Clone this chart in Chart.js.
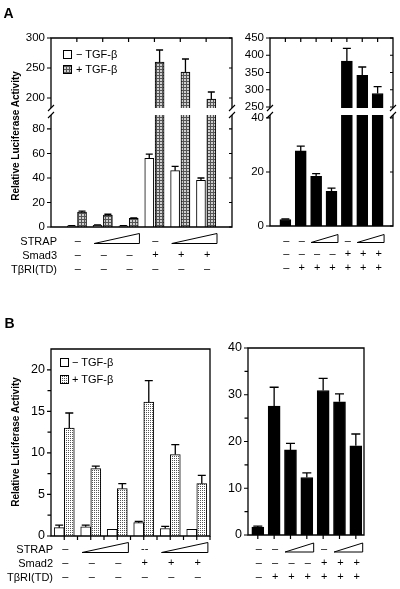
<!DOCTYPE html>
<html><head><meta charset="utf-8">
<script src="https://cdn.jsdelivr.net/npm/chart.js@4.4.1/dist/chart.umd.min.js"></script>
<style>
html,body{margin:0;padding:0;background:#fff;}
#wrap{position:relative;width:400px;height:589px;overflow:hidden;background:#fff;}
canvas{position:absolute;left:0;top:0;width:400px;height:589px;}
.t{position:absolute;font-family:"Liberation Sans",Arial,Helvetica,sans-serif;font-size:11px;line-height:11px;color:#000;white-space:nowrap;}
.m{transform:translateX(-50%);}
.r{text-align:right;}
.p{font-weight:bold;font-size:14px;line-height:14px;}
.yt{font-weight:bold;font-size:10px;line-height:10px;transform:translate(-50%,-50%) rotate(-90deg);}
</style></head><body><div id="wrap">
<canvas id="aLU" width="400" height="589"></canvas>
<canvas id="aLL" width="400" height="589"></canvas>
<canvas id="aRU" width="400" height="589"></canvas>
<canvas id="aRL" width="400" height="589"></canvas>
<canvas id="bL" width="400" height="589"></canvas>
<canvas id="bR" width="400" height="589"></canvas>
</div>
<script>
// ---------------- DATA ----------------
// Panel A, left: Smad3 / STRAP, -TGF-β (white) and +TGF-β (hatched)
const aLeftLanes = [0, 1, 2, 3, 4, 5];
const aLeftMinus = [1.0, 1.4, 1.0, 56, 46, 38];
const aLeftMinusErr = [0.2, 0.3, 0.2, 3.5, 3.5, 2];
const aLeftPlus = [12.2, 9.8, 7.0, 260, 243, 198];
const aLeftPlusErr = [0.8, 0.6, 0.5, 20, 22, 12];
const aLeftTicksUpper = [200, 250, 300];
const aLeftTicksLower = [0, 20, 40, 60, 80];
const aLeftRowNames = ['STRAP', 'Smad3', 'TβRI(TD)'];
const aLeftStrap = ['–', '<', '<', '–', '<', '<'];
const aLeftSmad3 = ['–', '–', '–', '+', '+', '+'];
const aLeftTbri = ['–', '–', '–', '–', '–', '–'];
const legendLabels = ['− TGF-β', '+ TGF-β'];

// Panel A, right
const aRightLanes = [0, 1, 2, 3, 4, 5, 6];
const aRightVals = [2.4, 27.8, 18.4, 12.8, 383, 342, 289];
const aRightErr = [0.2, 1.8, 1.0, 1.2, 37, 24, 20];
const aRightTicksUpper = [250, 300, 350, 400, 450];
const aRightTicksLower = [0, 20, 40];
const aRightStrap = ['–', '–', '<', '<', '–', '<', '<'];
const aRightSmad3 = ['–', '–', '–', '–', '+', '+', '+'];
const aRightTbri = ['–', '+', '+', '+', '+', '+', '+'];

// Panel B, left: Smad2 / STRAP
const bLeftLanes = [0, 1, 2, 3, 4, 5];
const bLeftMinus = [1.0, 1.1, 0.8, 1.6, 0.9, 0.8];
const bLeftMinusErr = [0.3, 0.2, 0, 0.15, 0.25, 0];
const bLeftPlus = [13.0, 8.1, 5.7, 16.1, 9.8, 6.3];
const bLeftPlusErr = [1.8, 0.3, 0.6, 2.6, 1.2, 1.0];
const bLeftTicks = [0, 5, 10, 15, 20];
const bLeftMinor = [2.5, 7.5, 12.5, 17.5];
const bLeftRowNames = ['STRAP', 'Smad2', 'TβRI(TD)'];
const bLeftStrap = ['–', '<', '<', '--', '<', '<'];
const bLeftSmad2 = ['–', '–', '–', '+', '+', '+'];
const bLeftTbri = ['–', '–', '–', '–', '–', '–'];

// Panel B, right
const bRightLanes = [0, 1, 2, 3, 4, 5, 6];
const bRightVals = [1.7, 27.6, 18.2, 12.3, 30.9, 28.5, 19.1];
const bRightErr = [0.2, 4.0, 1.4, 1.0, 2.6, 1.7, 2.5];
const bRightTicks = [0, 10, 20, 30, 40];
const bRightMinor = [5, 15, 25, 35];
const bRightStrap = ['–', '–', '<', '<', '–', '<', '<'];
const bRightSmad2 = ['–', '–', '–', '–', '+', '+', '+'];
const bRightTbri = ['–', '+', '+', '+', '+', '+', '+'];

// ---------------- SETUP ----------------
const FONT = '"Liberation Sans", Arial, Helvetica, sans-serif';
Chart.defaults.font.family = FONT;
Chart.defaults.color = '#000';
const wrap = document.getElementById('wrap');
const W = 400, H = 589, AXW = 40;

function pattern(canvasId, kind) {
  const t = document.createElement('canvas');
  const c = t.getContext('2d');
  if (kind === 'grid') {
    t.width = 3; t.height = 3;
    c.fillStyle = '#cfcfcf'; c.fillRect(0, 0, 3, 3);
    c.fillStyle = '#555'; c.fillRect(0, 0, 3, 1); c.fillRect(0, 0, 1, 3);
  } else {
    t.width = 2; t.height = 2;
    c.fillStyle = '#fff'; c.fillRect(0, 0, 2, 2);
    c.fillStyle = '#555'; c.fillRect(0, 0, 1, 1);
  }
  return document.getElementById(canvasId).getContext('2d').createPattern(t, 'repeat');
}

const DECO = {};
const decoPlugin = {
  id: 'deco',
  afterDatasetsDraw(chart) {
    const o = DECO[chart.canvas.id];
    if (!o) return;
    const ctx = chart.ctx, a = chart.chartArea, xs = chart.scales.x, ys = chart.scales.y;
    ctx.save();
    ctx.strokeStyle = '#000';
    // error bars
    ctx.save();
    ctx.beginPath(); ctx.rect(a.left, a.top - 1, a.right - a.left, a.bottom - a.top + 1); ctx.clip();
    ctx.lineWidth = 1.3;
    chart.data.datasets.forEach((ds, di) => {
      if (!ds.errors) return;
      chart.getDatasetMeta(di).data.forEach((el, i) => {
        const e = ds.errors[i]; if (!e) return;
        const yT = ys.getPixelForValue(ds.data[i].y + e);
        ctx.beginPath();
        ctx.moveTo(el.x, el.y); ctx.lineTo(el.x, yT);
        ctx.moveTo(el.x - o.cap / 2, yT); ctx.lineTo(el.x + o.cap / 2, yT);
        ctx.stroke();
      });
    });
    ctx.restore();
    // frame
    ctx.lineWidth = 1.3;
    ctx.beginPath();
    ctx.moveTo(a.left, a.top); ctx.lineTo(a.left, a.bottom);
    ctx.moveTo(a.right, a.top); ctx.lineTo(a.right, a.bottom);
    if (o.top) { ctx.moveTo(a.left - 0.65, a.top); ctx.lineTo(a.right + 0.65, a.top); }
    if (o.bottom) { ctx.moveTo(a.left - 0.65, a.bottom); ctx.lineTo(a.right + 0.65, a.bottom); }
    ctx.stroke();
    // break marks
    ctx.lineWidth = 1.1;
    ctx.beginPath();
    const slash = (x, y) => { ctx.moveTo(x - 3, y + 3); ctx.lineTo(x + 3, y - 3); };
    if (o.breakBottom) { slash(a.left, a.bottom); slash(a.right, a.bottom); }
    if (o.breakTop) { slash(a.left, a.top); slash(a.right, a.top); }
    ctx.stroke();
    // y ticks
    ctx.lineWidth = 1.2;
    ctx.beginPath();
    ys.ticks.forEach(t => {
      const y = ys.getPixelForValue(t.value);
      ctx.moveTo(a.left - 4, y); ctx.lineTo(a.left, y);
      if (o.rightTicks) { ctx.moveTo(a.right - 3, y); ctx.lineTo(a.right, y); }
    });
    (o.minor || []).forEach(v => {
      const y = ys.getPixelForValue(v);
      ctx.moveTo(a.left - 3.5, y); ctx.lineTo(a.left, y);
    });
    (o.xTop || []).forEach(v => {
      const x = xs.getPixelForValue(v);
      ctx.moveTo(x, a.top); ctx.lineTo(x, a.top + 4);
    });
    (o.xBottom || []).forEach(v => {
      const x = xs.getPixelForValue(v);
      ctx.moveTo(x, a.bottom); ctx.lineTo(x, a.bottom + 4);
    });
    ctx.stroke();
    // wedges (increasing STRAP)
    if (o.rows) {
      const row = o.rows[0];
      const yb = o.rowYs[0] + o.wedgeDy;
      let i = 0;
      while (i < row.length) {
        if (row[i] === '<') {
          let j = i;
          while (j + 1 < row.length && row[j + 1] === '<') j++;
          const x1 = xs.getPixelForValue(i - 0.33), x2 = xs.getPixelForValue(j + 0.42);
          ctx.beginPath();
          ctx.moveTo(x1, yb); ctx.lineTo(x2, yb); ctx.lineTo(x2, yb - o.wedgeH); ctx.closePath();
          ctx.fillStyle = '#fff'; ctx.fill();
          ctx.lineWidth = 1; ctx.stroke();
          i = j + 1;
        } else i++;
      }
    }
    // legend swatches
    (o.swatches || []).forEach(s => {
      ctx.fillStyle = s.fill; ctx.fillRect(s.x, s.y, s.w, s.h);
      ctx.lineWidth = 1; ctx.strokeRect(s.x + 0.5, s.y + 0.5, s.w - 1, s.h - 1);
    });
    ctx.restore();
  }
};

function build(id, box, xr, yr, yTicks, fsize, datasets) {
  return new Chart(document.getElementById(id), {
    type: 'bar',
    data: { datasets },
    options: {
      responsive: false, animation: false, devicePixelRatio: 1,
      layout: { padding: { left: box.l - AXW, right: W - box.r, top: box.t, bottom: H - box.b } },
      plugins: { legend: { display: false }, tooltip: { enabled: false } },
      scales: {
        x: {
          type: 'linear', min: xr[0], max: xr[1], display: false, offset: false,
          grid: { display: false, drawTicks: false, offset: false },
          ticks: { display: false, includeBounds: false },
          afterFit: s => { s.paddingLeft = 0; s.paddingRight = 0; }
        },
        y: {
          type: 'linear', min: yr[0], max: yr[1],
          grid: { display: false, drawTicks: false }, border: { display: false },
          afterBuildTicks: s => { s.ticks = yTicks.map(v => ({ value: v })); },
          afterFit: s => { s.width = AXW; },
          ticks: { font: { size: fsize, family: FONT }, color: '#000', padding: 6, autoSkip: false }
        }
      }
    },
    plugins: [decoPlugin]
  });
}

function bars(lanes, vals, errs, off, thick, fill) {
  return {
    data: lanes.map((l, i) => ({ x: l + off, y: vals[i] })),
    errors: errs, backgroundColor: fill, borderColor: '#000', borderWidth: 1,
    barThickness: thick, grouped: false, clip: 0
  };
}

function addText(txt, x, y, cls, right) {
  const d = document.createElement('div');
  d.className = 't ' + (cls || '');
  d.textContent = txt;
  d.style.top = y + 'px';
  if (right) d.style.right = (W - x) + 'px'; else d.style.left = x + 'px';
  wrap.appendChild(d);
}

function addRows(chart, names, rows, rowYs, labelRight) {
  const xs = chart.scales.x;
  rows.forEach((row, r) => {
    if (names) addText(names[r], labelRight, rowYs[r] - 5.5, 'r', true);
    row.forEach((sym, i) => {
      if (sym === '<') return;
      addText(sym, xs.getPixelForValue(i) + 1, rowYs[r] - 6, 'm');
    });
  });
}

// ---------------- PANEL A LEFT ----------------
const gridA = pattern('aLU', 'grid');
const gridA2 = pattern('aLL', 'grid');
const offA = 0.2;
const aLBoxU = { l: 51, r: 232, t: 38, b: 108 }, aLBoxL = { l: 51, r: 232, t: 115, b: 227 };
const aLRowYs = [241, 255, 269];
DECO.aLU = { top: true, bottom: false, breakBottom: true, rightTicks: true, cap: 7, xTop: aLeftLanes,
  swatches: [{ x: 63, y: 50, w: 9, h: 9, fill: '#fff' }, { x: 63, y: 65, w: 9, h: 9, fill: gridA }] };
DECO.aLL = { top: false, bottom: true, breakTop: true, rightTicks: true, cap: 7,
  rows: [aLeftStrap, aLeftSmad3, aLeftTbri], rowYs: aLRowYs, wedgeDy: 2.5, wedgeH: 10 };
build('aLU', aLBoxU, [-1, 6], [183.3, 300], aLeftTicksUpper, 11.5, [
  bars(aLeftLanes, aLeftMinus, aLeftMinusErr, -offA, 9, '#fff'),
  bars(aLeftLanes, aLeftPlus, aLeftPlusErr, offA, 9, gridA)]);
const cALL = build('aLL', aLBoxL, [-1, 6], [0, 91.4], aLeftTicksLower, 11.5, [
  bars(aLeftLanes, aLeftMinus, aLeftMinusErr, -offA, 9, '#fff'),
  bars(aLeftLanes, aLeftPlus, aLeftPlusErr, offA, 9, gridA2)]);
addRows(cALL, aLeftRowNames, [aLeftStrap, aLeftSmad3, aLeftTbri], aLRowYs, 57);

// ---------------- PANEL A RIGHT ----------------
const aRBoxU = { l: 270, r: 393, t: 38, b: 108 }, aRBoxL = { l: 270, r: 393, t: 115, b: 226 };
const aRRowYs = [241, 254, 268];
DECO.aRU = { top: true, bottom: false, breakBottom: true, rightTicks: true, cap: 8, xTop: aRightLanes };
DECO.aRL = { top: false, bottom: true, breakTop: true, rightTicks: true, cap: 8,
  rows: [aRightStrap, aRightSmad3, aRightTbri], rowYs: aRRowYs, wedgeDy: 1.5, wedgeH: 8 };
build('aRU', aRBoxU, [-1, 7], [247.1, 450], aRightTicksUpper, 11.5, [
  bars(aRightLanes, aRightVals, aRightErr, 0, 11, '#000')]);
const cARL = build('aRL', aRBoxL, [-1, 7], [0, 41.1], aRightTicksLower, 11.5, [
  bars(aRightLanes, aRightVals, aRightErr, 0, 11, '#000')]);
addRows(cARL, null, [aRightStrap, aRightSmad3, aRightTbri], aRRowYs, 0);

// ---------------- PANEL B LEFT ----------------
const dotB = pattern('bL', 'dots');
const offB = 0.19;
const bLRowYs = [549, 563, 577];
DECO.bL = { top: true, bottom: true, cap: 8, minor: bLeftMinor,
  xBottom: bLeftLanes.flatMap(l => [l, l + 0.5]),
  rows: [bLeftStrap, bLeftSmad2, bLeftTbri], rowYs: bLRowYs, wedgeDy: 3.5, wedgeH: 10,
  swatches: [{ x: 60, y: 358, w: 9, h: 9, fill: '#fff' }, { x: 60, y: 375, w: 9, h: 9, fill: dotB }] };
const cBL = build('bL', { l: 51, r: 210, t: 349, b: 536 }, [-0.5, 5.5], [0, 22.5], bLeftTicks, 12.5, [
  bars(bLeftLanes, bLeftMinus, bLeftMinusErr, -offB, 10, '#fff'),
  bars(bLeftLanes, bLeftPlus, bLeftPlusErr, offB, 10, dotB)]);
addRows(cBL, bLeftRowNames, [bLeftStrap, bLeftSmad2, bLeftTbri], bLRowYs, 53);

// ---------------- PANEL B RIGHT ----------------
const bRRowYs = [549, 563, 577];
DECO.bR = { top: true, bottom: true, cap: 9, minor: bRightMinor, xBottom: bRightLanes,
  rows: [bRightStrap, bRightSmad2, bRightTbri], rowYs: bRRowYs, wedgeDy: 3, wedgeH: 9 };
const cBR = build('bR', { l: 248, r: 364, t: 348, b: 535 }, [-0.6, 6.5], [0, 40], bRightTicks, 12.5, [
  bars(bRightLanes, bRightVals, bRightErr, 0, 12, '#000')]);
addRows(cBR, null, [bRightStrap, bRightSmad2, bRightTbri], bRRowYs, 0);

// ---------------- STATIC TEXT ----------------
addText('A', 3.5, 6, 'p');
addText('B', 4.5, 316, 'p');
addText(legendLabels[0], 76, 48.5);
addText(legendLabels[1], 76, 63.5);
addText(legendLabels[0], 72, 356.5);
addText(legendLabels[1], 72, 373.5);
addText('Relative Luciferase Activity', 16, 136, 'yt');
addText('Relative Luciferase Activity', 16, 442, 'yt');
</script></body></html>
